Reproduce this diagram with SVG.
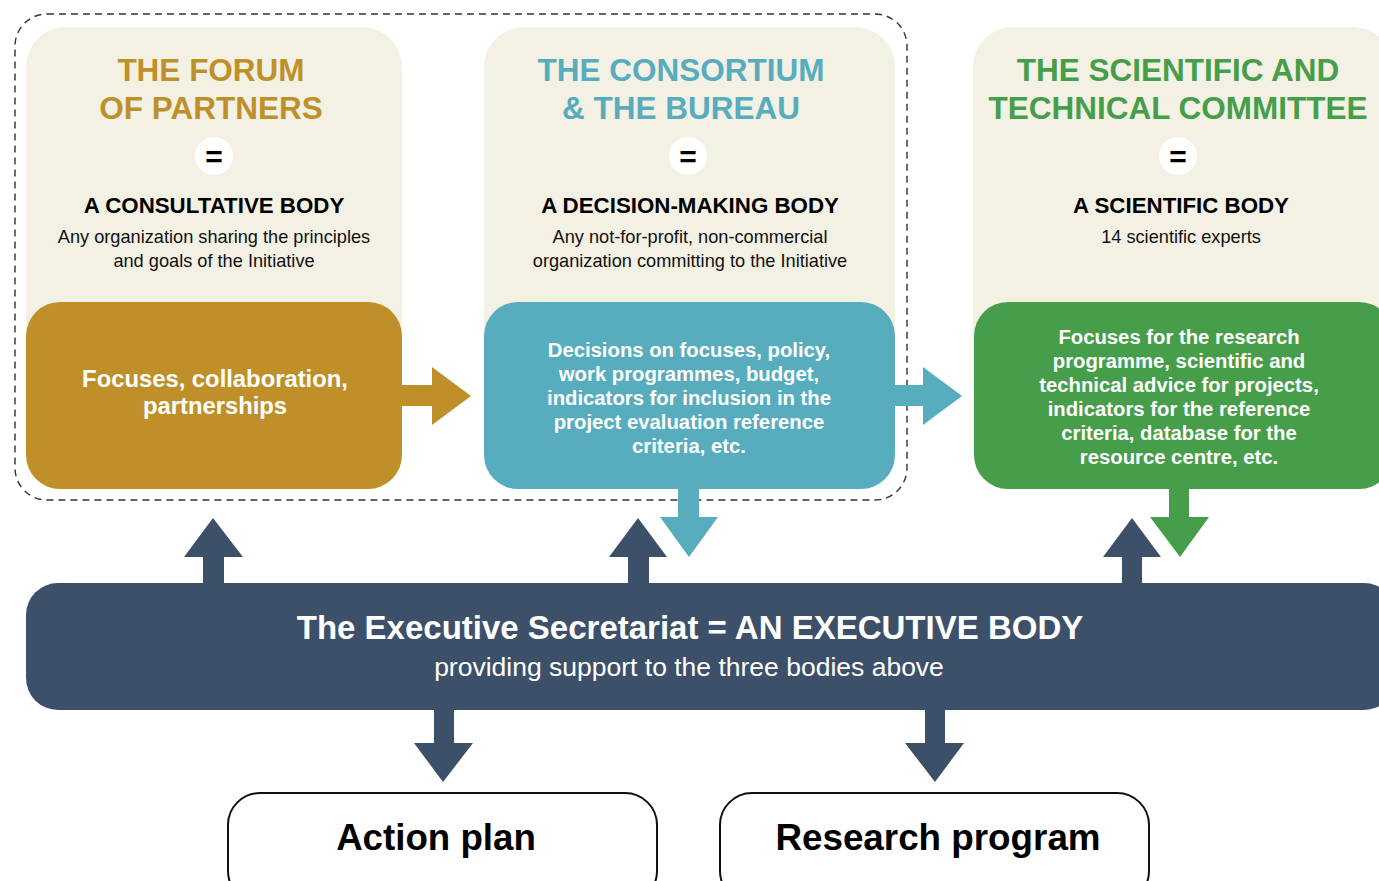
<svg xmlns="http://www.w3.org/2000/svg" width="1379" height="881" viewBox="0 0 1379 881">
<style>
text{font-family:"Liberation Sans",Arial,Helvetica,sans-serif;text-anchor:middle}
.panel{fill:#F3F0E4}
.t{font-size:31.5px;font-weight:bold}
.eqc{fill:#fff}
.eq{font-size:30px;font-weight:bold;fill:#000}
.h{font-size:22.3px;font-weight:bold;fill:#000}
.s{font-size:18.2px;fill:#111}
.w{fill:#fff;font-weight:bold}
.gold{fill:#BF902A}
.teal{fill:#57ADBE}
.green{fill:#469E4A}
.navy{fill:#3D5069}
.out{fill:#fff;stroke:#111;stroke-width:2}
.b{font-size:20.3px}
</style>
<rect x="15" y="14" width="892" height="486" rx="32" fill="none" stroke="#333" stroke-width="1.4" stroke-dasharray="7,5"/>

<g id="forum">
<rect class="panel" x="26" y="27" width="376" height="462" rx="40"/>
<text class="t gold" x="211" y="81">THE FORUM</text>
<text class="t gold" x="211" y="119">OF PARTNERS</text>
<circle class="eqc" cx="214" cy="156" r="19"/>
<text class="eq" x="214" y="167">=</text>
<text class="h" x="214" y="213">A CONSULTATIVE BODY</text>
<text class="s" x="214" y="243">Any organization sharing the principles</text>
<text class="s" x="214" y="267">and goals of the Initiative</text>
<rect class="gold" x="26" y="302" width="376" height="187" rx="34"/>
<text class="w" x="215" y="387" font-size="23.8px">Focuses, collaboration,</text>
<text class="w" x="215" y="414" font-size="23.8px">partnerships</text>
</g>

<g id="consortium">
<rect class="panel" x="484" y="27" width="411" height="462" rx="40"/>
<text class="t teal" x="681" y="81">THE CONSORTIUM</text>
<text class="t teal" x="681" y="119">&amp; THE BUREAU</text>
<circle class="eqc" cx="688" cy="156" r="19"/>
<text class="eq" x="688" y="167">=</text>
<text class="h" x="690" y="213">A DECISION-MAKING BODY</text>
<text class="s" x="690" y="243">Any not-for-profit, non-commercial</text>
<text class="s" x="690" y="267">organization committing to the Initiative</text>
<rect class="teal" x="484" y="302" width="411" height="187" rx="34"/>
<text class="w b" x="689" y="357">Decisions on focuses, policy,</text>
<text class="w b" x="689" y="381">work programmes, budget,</text>
<text class="w b" x="689" y="405">indicators for inclusion in the</text>
<text class="w b" x="689" y="429">project evaluation reference</text>
<text class="w b" x="689" y="453">criteria, etc.</text>
</g>

<g id="committee">
<rect class="panel" x="973" y="27" width="420" height="462" rx="40"/>
<text class="t green" x="1178" y="81">THE SCIENTIFIC AND</text>
<text class="t green" x="1178" y="119">TECHNICAL COMMITTEE</text>
<circle class="eqc" cx="1178" cy="156" r="19"/>
<text class="eq" x="1178" y="167">=</text>
<text class="h" x="1181" y="213">A SCIENTIFIC BODY</text>
<text class="s" x="1181" y="243">14 scientific experts</text>
<rect class="green" x="974" y="302" width="419" height="187" rx="34"/>
<text class="w b" x="1179" y="344">Focuses for the research</text>
<text class="w b" x="1179" y="368">programme, scientific and</text>
<text class="w b" x="1179" y="392">technical advice for projects,</text>
<text class="w b" x="1179" y="416">indicators for the reference</text>
<text class="w b" x="1179" y="440">criteria, database for the</text>
<text class="w b" x="1179" y="464">resource centre, etc.</text>
</g>

<g id="secretariat">
<rect class="navy" x="26" y="583" width="1370" height="127" rx="32"/>
<text class="w" x="690" y="639" font-size="33px">The Executive Secretariat = AN EXECUTIVE BODY</text>
<text x="689" y="676" font-size="26.5px" fill="#fff">providing support to the three bodies above</text>
</g>

<g id="actionplan">
<rect class="out" x="228" y="793" width="429" height="110" rx="32"/>
<text x="436" y="850" font-size="36.7px" font-weight="bold" fill="#000">Action plan</text>
</g>

<g id="researchprogram">
<rect class="out" x="720" y="793" width="429" height="110" rx="32"/>
<text x="938" y="850" font-size="36.8px" font-weight="bold" fill="#000">Research program</text>
</g>

<g id="connectors">
<polygon class="gold" points="402,385 432,385 432,367 471,396 432,425 432,406 402,406"/>
<polygon class="teal" points="895,385 923,385 923,367 962,396 923,425 923,406 895,406"/>
<polygon class="teal" points="678,489 699,489 699,517 718,517 689,557 660,517 678,517"/>
<polygon class="green" points="1169,489 1189,489 1189,517 1209,517 1180,557 1150,517 1169,517"/>
<polygon class="navy" points="203,584 224,584 224,557 243,557 213,518 184,557 203,557"/>
<polygon class="navy" points="628,584 649,584 649,557 667,557 638,518 609,557 628,557"/>
<polygon class="navy" points="1122,584 1142,584 1142,557 1161,557 1132,518 1103,557 1122,557"/>
<polygon class="navy" points="434,709 454,709 454,743 473,743 443,782 414,743 434,743"/>
<polygon class="navy" points="925,709 945,709 945,743 964,743 935,782 905,743 925,743"/>
</g>
</svg>
